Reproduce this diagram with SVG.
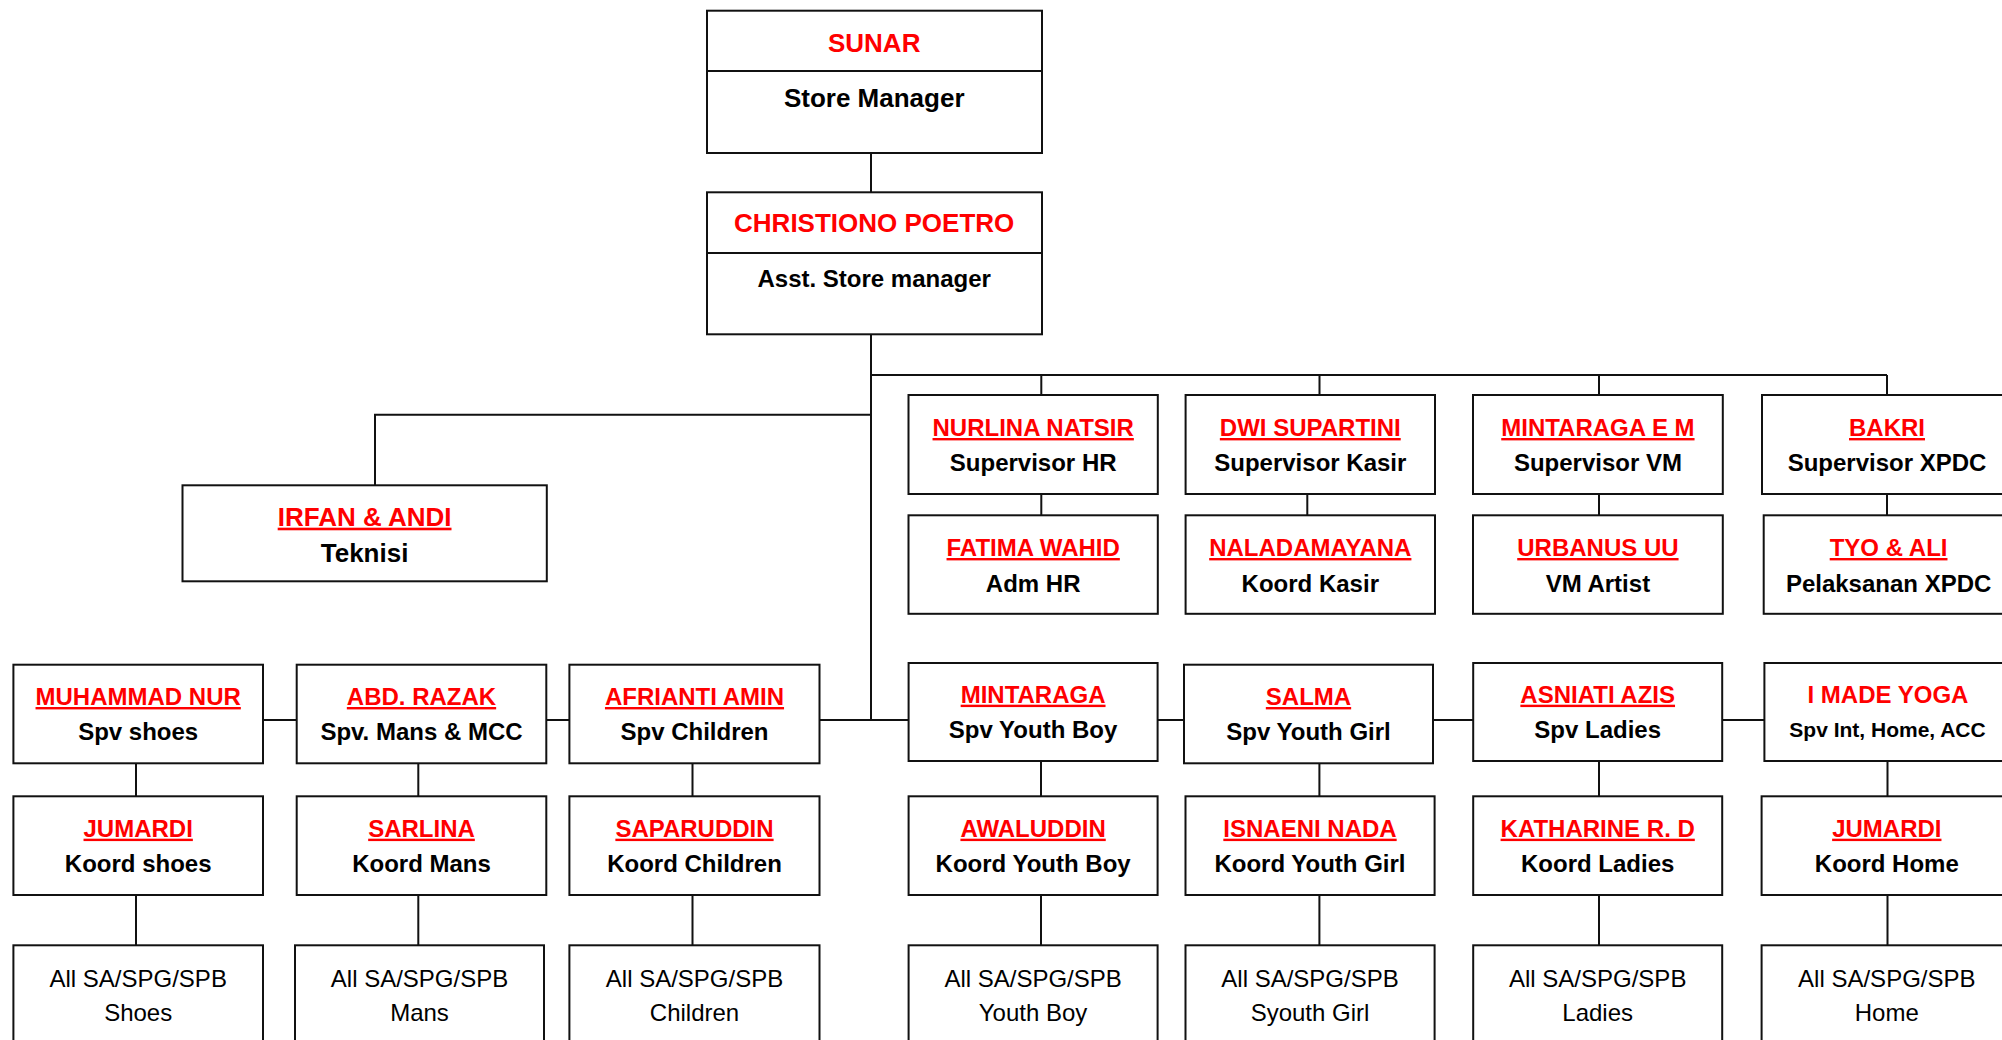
<svg xmlns="http://www.w3.org/2000/svg" width="2002" height="1040" viewBox="0 0 2002 1040">
<style>
.box{fill:#fff;stroke:#111;stroke-width:2}
.div{stroke:#111;stroke-width:2}
.con{fill:none;stroke:#111;stroke-width:2}
text{font-family:"Liberation Sans",Arial,sans-serif;text-anchor:middle}
.nm{fill:#ff0000;font-weight:bold;font-size:24px;text-decoration:underline;text-decoration-thickness:2.5px;text-underline-offset:3px}
.nn{fill:#ff0000;font-weight:bold;font-size:24px}
.rl{fill:#000;font-weight:bold;font-size:24px}
.st{fill:#000;font-size:24px}
text.big{font-size:26px}
text.sm{font-size:21px}
</style>
<rect width="2002" height="1040" fill="#fff"/>
<g id="connectors">
<path class="con" d="M871 153V192.3M871 334.3V720M871 414.7H375V485.3M871 375H1887M1041.3 375V395M1319.5 375V395M1599 375V395M1887 375V395"/>
<path class="con" d="M1041.3 494V515.3M1307.3 494V515.3M1599 494V515.3M1887 494V515.3"/>
<path class="con" d="M263 720H1764"/>
<path class="con" d="M136 763V796.3M418.3 763V796.3M692.5 763V796.3M1041 761V796.3M1319.4 763V796.3M1599 761V796.3M1887.5 761V796.3"/>
<path class="con" d="M136 895V945.3M418.3 895V945.3M692.5 895V945.3M1041 895V945.3M1319.4 895V945.3M1599 895V945.3M1887.5 895V945.3"/>
</g>
<g id="sunar">
<rect class="box" x="707" y="10.7" width="335" height="142.3"/>
<line class="div" x1="707" y1="71" x2="1042" y2="71"/>
<text class="nn big" x="874.2" y="51.7">SUNAR</text>
<text class="rl big" x="874.2" y="106.7">Store Manager</text>
</g>
<g id="christiono">
<rect class="box" x="707" y="192.3" width="335" height="142"/>
<line class="div" x1="707" y1="253" x2="1042" y2="253"/>
<text class="nn big" x="874.2" y="232.3">CHRISTIONO POETRO</text>
<text class="rl" x="874.2" y="286.7">Asst. Store manager</text>
</g>
<g id="irfan">
<rect class="box" x="182.5" y="485.3" width="364.3" height="96"/>
<text class="nm big" x="364.6" y="525.7">IRFAN &amp; ANDI</text>
<text class="rl big" x="364.6" y="561.7">Teknisi</text>
</g>
<g id="nurlina">
<rect class="box" x="908.5" y="395" width="249.3" height="99"/>
<text class="nm" x="1033.2" y="436">NURLINA NATSIR</text>
<text class="rl" x="1033.2" y="470.7">Supervisor HR</text>
</g>
<g id="dwi">
<rect class="box" x="1185.6" y="395" width="249.4" height="99"/>
<text class="nm" x="1310.3" y="436">DWI SUPARTINI</text>
<text class="rl" x="1310.3" y="470.7">Supervisor Kasir</text>
</g>
<g id="mintaragaem">
<rect class="box" x="1473" y="395" width="249.8" height="99"/>
<text class="nm" x="1597.9" y="436">MINTARAGA E M</text>
<text class="rl" x="1597.9" y="470.7">Supervisor VM</text>
</g>
<g id="bakri">
<rect class="box" x="1762" y="395" width="250" height="99"/>
<text class="nm" x="1887" y="436">BAKRI</text>
<text class="rl" x="1887" y="470.7">Supervisor XPDC</text>
</g>
<g id="fatima">
<rect class="box" x="908.5" y="515.3" width="249.3" height="98.5"/>
<text class="nm" x="1033.2" y="556">FATIMA WAHID</text>
<text class="rl" x="1033.2" y="591.7">Adm HR</text>
</g>
<g id="naladamayana">
<rect class="box" x="1185.6" y="515.3" width="249.4" height="98.5"/>
<text class="nm" x="1310.3" y="556">NALADAMAYANA</text>
<text class="rl" x="1310.3" y="591.7">Koord Kasir</text>
</g>
<g id="urbanus">
<rect class="box" x="1473" y="515.3" width="249.8" height="98.5"/>
<text class="nm" x="1597.9" y="556">URBANUS UU</text>
<text class="rl" x="1597.9" y="591.7">VM Artist</text>
</g>
<g id="tyo">
<rect class="box" x="1763.7" y="515.3" width="250" height="98.5"/>
<text class="nm" x="1888.6" y="556">TYO &amp; ALI</text>
<text class="rl" x="1888.6" y="591.7">Pelaksanan XPDC</text>
</g>
<g id="muhammad">
<rect class="box" x="13.4" y="664.7" width="249.6" height="98.6"/>
<text class="nm" x="138.2" y="705">MUHAMMAD NUR</text>
<text class="rl" x="138.2" y="740">Spv shoes</text>
</g>
<g id="abd">
<rect class="box" x="296.7" y="664.7" width="249.6" height="98.6"/>
<text class="nm" x="421.5" y="705">ABD. RAZAK</text>
<text class="rl" x="421.5" y="740">Spv. Mans &amp; MCC</text>
</g>
<g id="afrianti">
<rect class="box" x="569.4" y="664.7" width="250.1" height="98.6"/>
<text class="nm" x="694.5" y="705">AFRIANTI AMIN</text>
<text class="rl" x="694.5" y="740">Spv Children</text>
</g>
<g id="mintaraga">
<rect class="box" x="908.6" y="663" width="249" height="98"/>
<text class="nm" x="1033.1" y="702.7">MINTARAGA</text>
<text class="rl" x="1033.1" y="738.3">Spv Youth Boy</text>
</g>
<g id="salma">
<rect class="box" x="1184" y="664.7" width="249" height="98.6"/>
<text class="nm" x="1308.5" y="705">SALMA</text>
<text class="rl" x="1308.5" y="740">Spv Youth Girl</text>
</g>
<g id="asniati">
<rect class="box" x="1473.2" y="663" width="249" height="98"/>
<text class="nm" x="1597.7" y="702.7">ASNIATI AZIS</text>
<text class="rl" x="1597.7" y="738.3">Spv Ladies</text>
</g>
<g id="imade">
<rect class="box" x="1764.4" y="663" width="248" height="98"/>
<text class="nn" x="1888" y="702.7">I MADE YOGA</text>
<text class="rl sm" x="1887.5" y="736.7">Spv Int, Home, ACC</text>
</g>
<g id="jumardi1">
<rect class="box" x="13.4" y="796.3" width="249.6" height="98.7"/>
<text class="nm" x="138.2" y="836.7">JUMARDI</text>
<text class="rl" x="138.2" y="872.3">Koord shoes</text>
</g>
<g id="sarlina">
<rect class="box" x="296.7" y="796.3" width="249.6" height="98.7"/>
<text class="nm" x="421.5" y="836.7">SARLINA</text>
<text class="rl" x="421.5" y="872.3">Koord Mans</text>
</g>
<g id="saparuddin">
<rect class="box" x="569.4" y="796.3" width="250.1" height="98.7"/>
<text class="nm" x="694.5" y="836.7">SAPARUDDIN</text>
<text class="rl" x="694.5" y="872.3">Koord Children</text>
</g>
<g id="awaluddin">
<rect class="box" x="908.6" y="796.3" width="249" height="98.7"/>
<text class="nm" x="1033.1" y="836.7">AWALUDDIN</text>
<text class="rl" x="1033.1" y="872.3">Koord Youth Boy</text>
</g>
<g id="isnaeni">
<rect class="box" x="1185.5" y="796.3" width="249.1" height="98.7"/>
<text class="nm" x="1310" y="836.7">ISNAENI NADA</text>
<text class="rl" x="1310" y="872.3">Koord Youth Girl</text>
</g>
<g id="katharine">
<rect class="box" x="1473.2" y="796.3" width="249" height="98.7"/>
<text class="nm" x="1597.7" y="836.7">KATHARINE R. D</text>
<text class="rl" x="1597.7" y="872.3">Koord Ladies</text>
</g>
<g id="jumardi2">
<rect class="box" x="1761.6" y="796.3" width="251" height="98.7"/>
<text class="nm" x="1886.8" y="836.7">JUMARDI</text>
<text class="rl" x="1886.8" y="872.3">Koord Home</text>
</g>
<g id="staff-shoes">
<rect class="box" x="13.4" y="945.3" width="249.6" height="110"/>
<text class="st" x="138.2" y="986.7">All SA/SPG/SPB</text>
<text class="st" x="138.2" y="1021">Shoes</text>
</g>
<g id="staff-mans">
<rect class="box" x="295" y="945.3" width="249" height="110"/>
<text class="st" x="419.5" y="986.7">All SA/SPG/SPB</text>
<text class="st" x="419.5" y="1021">Mans</text>
</g>
<g id="staff-children">
<rect class="box" x="569.4" y="945.3" width="250.1" height="110"/>
<text class="st" x="694.5" y="986.7">All SA/SPG/SPB</text>
<text class="st" x="694.5" y="1021">Children</text>
</g>
<g id="staff-youthboy">
<rect class="box" x="908.6" y="945.3" width="249" height="110"/>
<text class="st" x="1033.1" y="986.7">All SA/SPG/SPB</text>
<text class="st" x="1033.1" y="1021">Youth Boy</text>
</g>
<g id="staff-youthgirl">
<rect class="box" x="1185.5" y="945.3" width="249.1" height="110"/>
<text class="st" x="1310" y="986.7">All SA/SPG/SPB</text>
<text class="st" x="1310" y="1021">Syouth Girl</text>
</g>
<g id="staff-ladies">
<rect class="box" x="1473.2" y="945.3" width="249" height="110"/>
<text class="st" x="1597.7" y="986.7">All SA/SPG/SPB</text>
<text class="st" x="1597.7" y="1021">Ladies</text>
</g>
<g id="staff-home">
<rect class="box" x="1761.6" y="945.3" width="251" height="110"/>
<text class="st" x="1886.8" y="986.7">All SA/SPG/SPB</text>
<text class="st" x="1886.8" y="1021">Home</text>
</g>
</svg>
